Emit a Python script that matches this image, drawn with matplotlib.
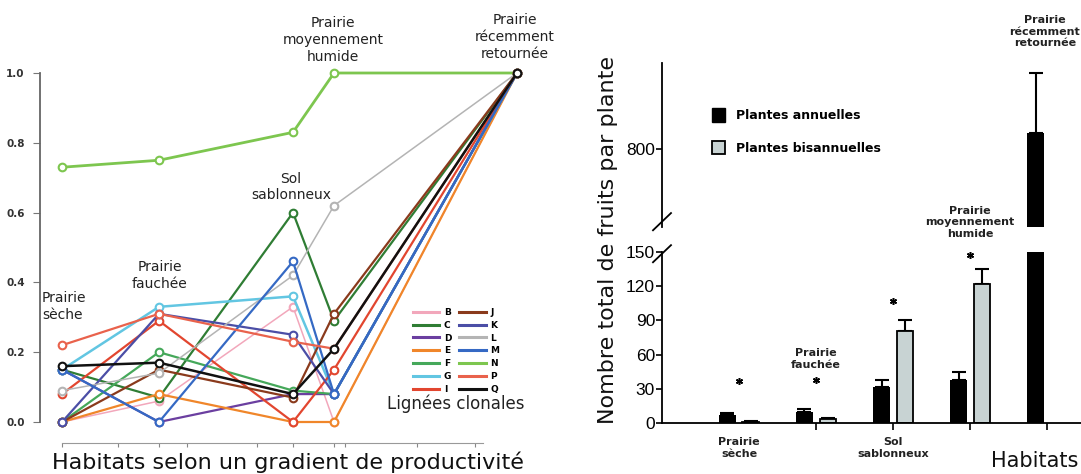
import matplotlib
matplotlib.use('Agg')
import matplotlib.pyplot as plt
import numpy as np
from matplotlib.lines import Line2D
from matplotlib.patches import Patch

W, H = 1081, 474
plt.rcParams['font.family'] = ['DejaVu Sans']

# ---- left panel data: proportion per clonal line along the habitat gradient
habitats = ['Prairie\nsèche', 'Prairie\nfauchée', 'Sol\nsablonneux',
            'Prairie\nmoyennement\nhumide', 'Prairie\nrécemment\nretournée']
hab_x = [0.22, 1.19, 2.53, 2.94, 4.77]

B = [0.00, 0.06, 0.33, 0.00, 1.0]
C = [0.15, 0.07, 0.60, 0.29, 1.0]
D = [0.15, 0.00, 0.08, 0.08, 1.0]
E = [0.00, 0.08, 0.00, 0.00, 1.0]
F = [0.00, 0.20, 0.09, 0.08, 1.0]
G = [0.15, 0.33, 0.36, 0.08, 1.0]
I = [0.08, 0.29, 0.00, 0.15, 1.0]
J = [0.00, 0.15, 0.07, 0.31, 1.0]
K = [0.00, 0.31, 0.25, 0.08, 1.0]
L = [0.09, 0.14, 0.42, 0.62, 1.0]
M = [0.15, 0.00, 0.46, 0.08, 1.0]
N = [0.73, 0.75, 0.83, 1.00, 1.0]
P = [0.22, 0.31, 0.23, 0.21, 1.0]
Q = [0.16, 0.17, 0.08, 0.21, 1.0]

clones = ['B', 'C', 'D', 'E', 'F', 'G', 'I', 'J', 'K', 'L', 'M', 'N', 'P', 'Q']
clone_vals = [B, C, D, E, F, G, I, J, K, L, M, N, P, Q]
clone_cols = ['#f2a7bb', '#2f7d34', '#6b3fa0', '#f0862a', '#45a85a', '#62c6e2',
              '#e2462f', '#8a3a1c', '#4b4ea6', '#b4b4b4', '#3569c4', '#7dc64f',
              '#e9624c', '#111111']
clone_lw = [1.1, 1.6, 1.6, 1.6, 1.6, 1.8, 1.6, 1.6, 1.6, 1.1, 1.6, 2.0, 1.6, 1.8]

# ---- right panel data: total fruits per plant
annuelles = [7, 10, 32, 38, 820]
annuelles_err = [2, 2.5, 6, 7, 77]
bisannuelles = [1, 3.5, 81, 122]
bisannuelles_err = [0.5, 0.5, 9, 13]
star_y = [37, 38, 107, 147]

fig = plt.figure(figsize=(W / 100, H / 100), dpi=100)


def box(x0, y0, x1, y1):
    return [x0 / W, 1 - y1 / H, (x1 - x0) / W, (y1 - y0) / H]


ax1 = fig.add_axes(box(40, 73, 530, 422))
for name, vals, col, lw in zip(clones, clone_vals, clone_cols, clone_lw):
    ax1.plot(hab_x, vals, color=col, lw=lw, marker='o', ms=5.5, mfc='white',
             mec=col, mew=1.5, clip_on=False, zorder=3)
ax1.set_xlim(0, 4.9)
ax1.set_ylim(0, 1)
for s in ['top', 'right']:
    ax1.spines[s].set_visible(False)
ax1.spines['left'].set_color('#666666')
ax1.spines['left'].set_linewidth(1.3)
ax1.spines['bottom'].set_position(('outward', 15))
ax1.spines['bottom'].set_bounds(0.22, 4.43)
ax1.spines['bottom'].set_color('#999999')
ax1.set_xticks([0.22, 0.78, 1.19, 1.47, 2.17, 2.53, 2.94, 3.05, 3.77, 4.35])
ax1.set_xticklabels([])
ax1.tick_params(axis='x', length=3, color='#888888')
ax1.set_yticks(np.arange(0, 1.01, 0.2))
ax1.set_yticklabels(['0.0', '0.2', '0.4', '0.6', '0.8', '1.0'])
ax1.tick_params(axis='y', labelsize=7.5, length=5, color='#777777', labelcolor='#333333', pad=6)
for lab in ax1.get_yticklabels():
    lab.set_fontweight('bold')

lab_off = [(-0.20, 0.33), (0.01, 0.42), (-0.02, 0.673), (-0.01, 1.095), (-0.02, 1.103)]
for i, (txt, (dx, yy)) in enumerate(zip(habitats, lab_off)):
    ax1.text(hab_x[i] + dx, yy, txt, ha='left' if i == 0 else 'center', va='center',
             fontsize=10, color='#222222', linespacing=1.25, clip_on=False)

handles = [Line2D([0], [0], color=c, lw=2.2) for c in clone_cols]
fig.legend(handles, clones, ncol=2, loc='upper left', bbox_to_anchor=(413 / W, 1 - 308 / H),
           frameon=False, prop={'size': 6.5, 'weight': 'bold'}, handlelength=2.9,
           handletextpad=0.5, columnspacing=0.9, labelspacing=0.42, borderpad=0,
           borderaxespad=0)
fig.text(456 / W, 1 - 404 / H, 'Lignées clonales', ha='center', va='center',
         fontsize=12, color='#222222')
fig.text(288 / W, 1 - 462 / H, 'Habitats selon un gradient de productivité',
         ha='center', va='center', fontsize=16, color='#111111')

# ---- right panel with broken axis
gx = np.arange(5)
off, bw = 0.15, 0.21
axL = fig.add_axes(box(662, 252, 1081, 423))
axU = fig.add_axes(box(662, 63, 1081, 227))
for ax in (axL, axU):
    ax.patch.set_visible(False)
    ax.errorbar(gx - off, annuelles, yerr=[np.zeros(5), annuelles_err], fmt='none',
                ecolor='black', elinewidth=1.5, capsize=5, capthick=1.5, zorder=1)
    ax.errorbar(gx[:4] + off, bisannuelles, yerr=[np.zeros(4), bisannuelles_err],
                fmt='none', ecolor='black', elinewidth=1.5, capsize=5, capthick=1.5, zorder=1)
    ax.bar(gx - off, annuelles, bw, color='black', zorder=2)
    ax.bar(gx[:4] + off, bisannuelles, bw, color='#c8d3d3', edgecolor='black', lw=1.3, zorder=2)
    ax.set_xlim(-1.0, 4.44)
    for s in ['top', 'right']:
        ax.spines[s].set_visible(False)
    ax.spines['left'].set_linewidth(1.3)
    ax.tick_params(axis='y', labelsize=12.5, length=4, width=1.2, pad=1)

axL.set_ylim(0, 150)
axL.set_yticks([0, 30, 60, 90, 120, 150])
axL.spines['bottom'].set_linewidth(1.3)
axL.set_xticks(gx[1:])
axL.set_xticklabels([])
axL.tick_params(axis='x', length=5, width=1.2)
for lab in axL.get_yticklabels():
    lab.set_family('Liberation Sans')

axU.set_ylim(700, 910)
axU.set_yticks([800])
axU.spines['bottom'].set_visible(False)
axU.set_xticks([])
for lab in axU.get_yticklabels():
    lab.set_family('Liberation Sans')

brk = dict(color='black', lw=1.3, clip_on=False)
axU.plot([-9 / 419, 9 / 419], [-0.02, 0.085], transform=axU.transAxes, **brk)
axL.plot([-9 / 419, 9 / 419], [0.94, 1.04], transform=axL.transAxes, **brk)

axL.plot(gx[:4], star_y, ls='none', marker=(6, 2, 0), ms=5, mew=1.1, color='black', clip_on=False)

lab_kw = dict(ha='center', va='center', fontsize=8, fontweight='bold', color='#222222', linespacing=1.2)
xt = axL.get_xaxis_transform()
axL.text(gx[0], -0.146, habitats[0], transform=xt, **lab_kw)
axL.text(gx[1], 56, habitats[1], clip_on=False, **lab_kw)
axL.text(gx[2], -0.146, habitats[2], transform=xt, **lab_kw)
axL.text(gx[3], 176, habitats[3], clip_on=False, zorder=5, **lab_kw)
axU.text(gx[4] - 0.03, 1.19, habitats[4], transform=axU.get_xaxis_transform(), **lab_kw)

leg = fig.legend([Patch(facecolor='black', edgecolor='black'),
                  Patch(facecolor='#c8d3d3', edgecolor='black', lw=1.3)],
                 ['Plantes annuelles', 'Plantes bisannuelles'], loc='upper left',
                 bbox_to_anchor=(712 / W, 1 - 108 / H), frameon=False,
                 prop={'size': 9, 'weight': 'bold'}, handlelength=1.0, handleheight=1.3,
                 handletextpad=0.9, labelspacing=1.5, borderpad=0, borderaxespad=0)

fig.text(608 / W, 1 - 240 / H, 'Nombre total de fruits par plante', rotation=90,
         ha='center', va='center', fontsize=16, color='#111111')
fig.text(1035 / W, 1 - 461 / H, 'Habitats', ha='center', va='center', fontsize=15,
         color='#111111')

fig.savefig('out.png', dpi=100)
